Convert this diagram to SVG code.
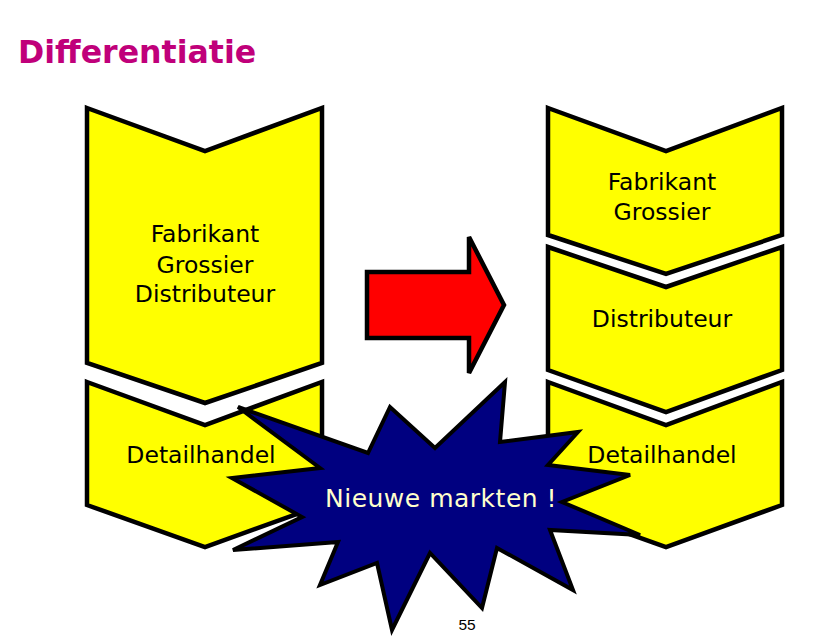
<svg xmlns="http://www.w3.org/2000/svg" width="820" height="639" viewBox="0 0 820 639">
<style>
.chev{fill:#FFFF00;stroke:#000;stroke-width:4.5;stroke-linejoin:miter}
.lbl{font-family:"DejaVu Sans",Verdana,sans-serif;font-size:23.5px;fill:#000;text-anchor:middle}
</style>
<rect width="820" height="639" fill="#fff"/>
<text x="18" y="63" font-family="DejaVu Sans,Verdana,sans-serif" font-weight="bold" font-size="31.6" fill="#C0007A">Differentiatie</text>
<g id="left-top">
<polygon class="chev" points="87,108 205,151 322,108 322,363 205,403 87,363"/>
<text class="lbl" x="205" y="242">Fabrikant</text>
<text class="lbl" x="205" y="273">Grossier</text>
<text class="lbl" x="205" y="302">Distributeur</text>
</g>
<g id="left-bottom">
<polygon class="chev" points="87,382 205,425 322,382 322,505 205,547 87,505"/>
<text class="lbl" x="201" y="463">Detailhandel</text>
</g>
<g id="right-top">
<polygon class="chev" points="548,108 666,151 782,108 782,235 666,274 548,235"/>
<text class="lbl" x="662" y="190">Fabrikant</text>
<text class="lbl" x="662" y="220">Grossier</text>
</g>
<g id="right-mid">
<polygon class="chev" points="548,247 666,287 782,247 782,370 666,412 548,370"/>
<text class="lbl" x="662" y="327">Distributeur</text>
</g>
<g id="right-bottom">
<polygon class="chev" points="548,382 666,425 782,382 782,505 666,547 548,505"/>
<text class="lbl" x="662" y="463">Detailhandel</text>
</g>
<g id="connectors">
<polygon id="arrow" points="367,272 469,272 469,237 504,305 469,373 469,338 367,338" fill="#FF0000" stroke="#000" stroke-width="4.5" stroke-linejoin="miter"/>
</g>
<g id="starburst">
<polygon points="238,407 368,453 390,407 435,448 505,382 500,442 578,432 548,465 630,475 562,502 640,535 550,530 573,590 497,548 482,608 430,553 392,630 377,563 320,585 338,542 233,550 302,517 232,478 320,468" fill="#000080" stroke="#000" stroke-width="4" stroke-linejoin="miter"/>
<text x="325" y="507" font-family="DejaVu Sans,Verdana,sans-serif" font-size="25" letter-spacing="0.5" fill="#FFFFCC">Nieuwe markten !</text>
</g>
<text x="467" y="630" font-family="Liberation Sans,Arial,sans-serif" font-size="15.5" fill="#000" text-anchor="middle">55</text>
</svg>
